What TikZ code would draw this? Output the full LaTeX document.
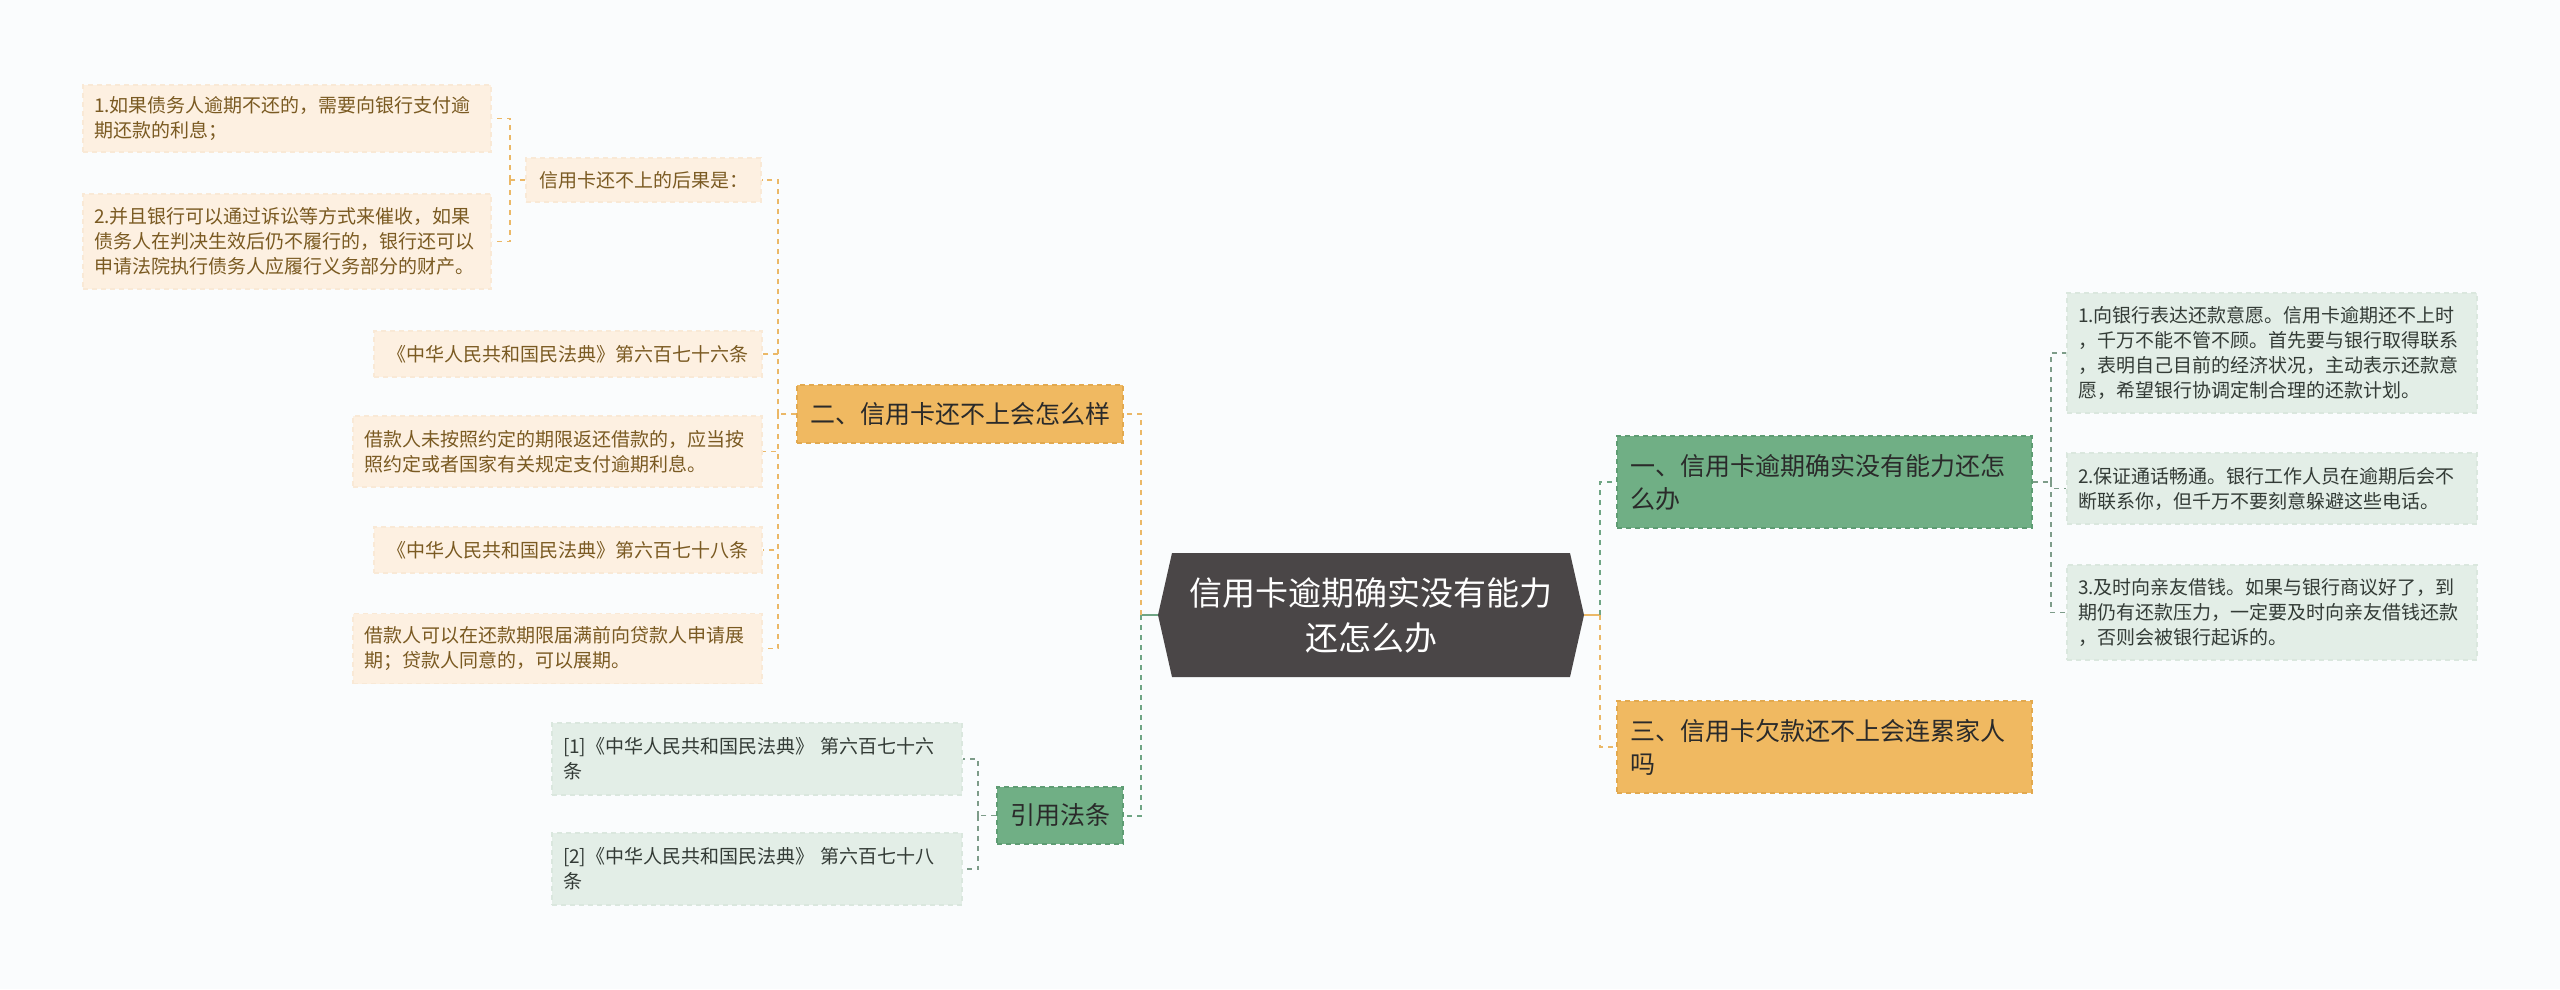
\documentclass[tikz,border=0pt]{standalone}
\usepackage{fontspec}
\setmainfont{Noto Sans CJK SC}
\usetikzlibrary{calc}
\definecolor{bgc}{HTML}{FAFCFD}
\definecolor{hexc}{HTML}{4A4647}
\definecolor{ofill}{HTML}{F0B961}
\definecolor{obord}{HTML}{E2A94F}
\definecolor{gfill}{HTML}{70AF85}
\definecolor{gbord}{HTML}{5E9C73}
\definecolor{pfill}{HTML}{FDF0E1}
\definecolor{pbord}{HTML}{F9E9D6}
\definecolor{ptxt}{HTML}{7A5A22}
\definecolor{lfill}{HTML}{E3EEE7}
\definecolor{lbord}{HTML}{DAE7DE}
\definecolor{ltxt}{HTML}{333B36}
\definecolor{dtxt}{HTML}{2A2A2A}
\definecolor{corange}{HTML}{EBB867}
\definecolor{cgreen}{HTML}{6FA584}
\definecolor{cgray}{HTML}{7D9C89}
\begin{document}
\begin{tikzpicture}[x=1pt,y=-1pt,
  box/.style={draw, dash pattern=on 5pt off 4pt, line width=1.5pt, inner sep=0pt, anchor=center},
  leafO/.style={box, fill=pfill, draw=pbord, text=ptxt, font=\fontsize{19}{25}\selectfont, align=left},
  leafG/.style={box, fill=lfill, draw=lbord, text=ltxt, font=\fontsize{19}{25}\selectfont, align=left},
  mainO/.style={box, fill=ofill, draw=obord, text=dtxt, font=\fontsize{25}{33}\selectfont, align=left},
  mainG/.style={box, fill=gfill, draw=gbord, text=dtxt, font=\fontsize{25}{33}\selectfont, align=left},
  conO/.style={draw=corange, line width=2pt, dash pattern=on 5pt off 5pt},
  conG/.style={draw=cgreen, line width=2pt, dash pattern=on 5pt off 5pt},
  conOs/.style={draw=corange, line width=2pt},
  conGs/.style={draw=cgreen, line width=2pt},
  conO2/.style={draw=corange, line width=1.6pt, dash pattern=on 5pt off 5pt},
  conG2/.style={draw=cgray, line width=1.6pt, dash pattern=on 5pt off 5pt}
]
\fill[bgc] (0,0) rectangle (2560,989);
\useasboundingbox (0,0) rectangle (2560,989);

% root
\fill[hexc] (1158,615) -- (1172,553) -- (1570,553) -- (1584,615) -- (1570,677) -- (1172,677) -- cycle;
\coordinate (hexL) at (1158,615);
\coordinate (hexR) at (1584,615);
\node[text=white, font=\fontsize{33}{45}\selectfont, align=center] (root) at (1371,615) {信用卡逾期确实没有能力\\还怎么办};

% right side
\node[mainG, minimum width=415, minimum height=92, text width=389pt] (n1) at (1824.5,482) {一、信用卡逾期确实没有能力还怎\\么办};
\node[mainO, minimum width=415, minimum height=92, text width=389pt] (n3) at (1824.5,747) {三、信用卡欠款还不上会连累家人\\吗};
\node[leafG, minimum width=410, minimum height=120, text width=388pt] (q1) at (2272,353) {1.向银行表达还款意愿。信用卡逾期还不上时\\，千万不能不管不顾。首先要与银行取得联系\\，表明自己目前的经济状况，主动表示还款意\\愿，希望银行协调定制合理的还款计划。};
\node[leafG, minimum width=410, minimum height=71, text width=388pt] (q2) at (2272,488.5) {2.保证通话畅通。银行工作人员在逾期后会不\\断联系你，但千万不要刻意躲避这些电话。};
\node[leafG, minimum width=410, minimum height=95, text width=388pt] (q3) at (2272,612.5) {3.及时向亲友借钱。如果与银行商议好了，到\\期仍有还款压力，一定要及时向亲友借钱还款\\，否则会被银行起诉的。};

% left side
\node[mainO, minimum width=326, minimum height=58, align=center] (n2) at (960,414) {二、信用卡还不上会怎么样};
\node[mainG, minimum width=126, minimum height=57, align=center] (ref) at (1060,815.5) {引用法条};

\node[leafO, minimum width=235, minimum height=44, align=center] (c1) at (643.5,180) {信用卡还不上的后果是：};
\node[leafO, minimum width=408, minimum height=67, text width=386pt] (l1) at (287,118.5) {1.如果债务人逾期不还的，需要向银行支付逾\\期还款的利息；};
\node[leafO, minimum width=408, minimum height=95, text width=386pt] (l2) at (287,241.5) {2.并且银行可以通过诉讼等方式来催收，如果\\债务人在判决生效后仍不履行的，银行还可以\\申请法院执行债务人应履行义务部分的财产。};

\node[leafO, minimum width=388, minimum height=46, align=center] (p1) at (568,354) {《中华人民共和国民法典》第六百七十六条};
\node[leafO, minimum width=409, minimum height=71, text width=387pt] (p2) at (557.5,451.5) {借款人未按照约定的期限返还借款的，应当按\\照约定或者国家有关规定支付逾期利息。};
\node[leafO, minimum width=388, minimum height=46, align=center] (p3) at (568,550) {《中华人民共和国民法典》第六百七十八条};
\node[leafO, minimum width=409, minimum height=70, text width=387pt] (p4) at (557.5,648.5) {借款人可以在还款期限届满前向贷款人申请展\\期；贷款人同意的，可以展期。};

\node[leafG, minimum width=410, minimum height=72, text width=388pt] (r1) at (757,759) {[1]《中华人民共和国民法典》 第六百七十六\\条};
\node[leafG, minimum width=410, minimum height=72, text width=388pt] (r2) at (757,869) {[2]《中华人民共和国民法典》 第六百七十八\\条};

% connectors: root
\coordinate (jl) at ($(hexL)+(-17,0)$);
\coordinate (jr) at ($(hexR)+(16,0)$);
\draw[conGs] (hexL) -- (jl);
\draw[conO] (jl) |- (n2.east);
\draw[conG] (jl) |- (ref.east);
\draw[conOs] (hexR) -- (jr);
\draw[conG] (jr) |- (n1.west);
\draw[conO] (jr) |- (n3.west);

% node 一 branches
\coordinate (j1) at ($(n1.east)+(18,0)$);
\draw[conG2] (n1.east) -- (j1);
\foreach \t in {q1,q2,q3} \draw[conG2] (j1) |- (\t.west);

% node 二 branches
\coordinate (j2) at ($(n2.west)+(-18,0)$);
\draw[conO2] (n2.west) -- (j2);
\foreach \t in {c1,p1,p2,p3,p4} \draw[conO2] (j2) |- (\t.east);

% sub branch
\coordinate (jc) at ($(c1.west)+(-15,0)$);
\draw[conO2] (c1.west) -- (jc);
\foreach \t in {l1,l2} \draw[conO2] (jc) |- (\t.east);

% ref branches
\coordinate (jf) at ($(ref.west)+(-18,0)$);
\draw[conG2] (ref.west) -- (jf);
\foreach \t in {r1,r2} \draw[conG2] (jf) |- (\t.east);
\end{tikzpicture}
\end{document}
